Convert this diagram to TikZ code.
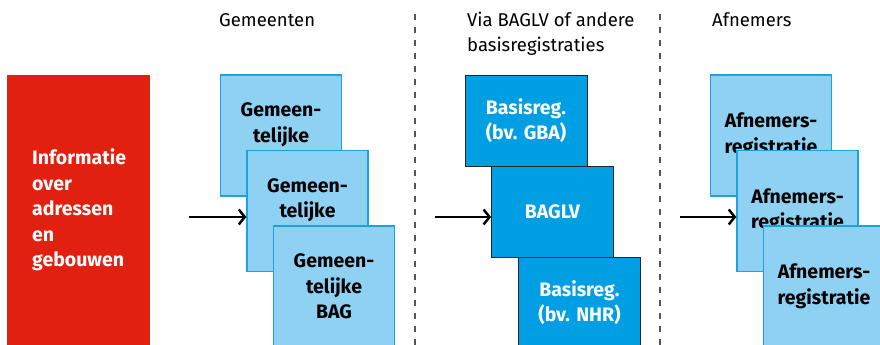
\documentclass[tikz,border=0pt]{standalone}
\usepackage{fontspec}
\setmainfont{Fira Sans}
\usetikzlibrary{arrows.meta}
\definecolor{rvred}{HTML}{E2200F}
\definecolor{rvlight}{HTML}{8FD1F3}
\definecolor{rvlightbd}{HTML}{1AA3E3}
\definecolor{rvblue}{HTML}{009FE3}
\definecolor{rvdashgray}{HTML}{555555}
\tikzset{
  boxtext/.style={font=\bfseries\fontsize{19.5}{25.5}\selectfont, align=center},
  lightbox/.style={boxtext, draw=rvlightbd, line width=1.4pt, fill=rvlight,
    minimum width=121pt, minimum height=121pt, inner sep=0pt, text=black},
  darkbox/.style={boxtext, draw=black!85, line width=0.8pt, fill=rvblue,
    minimum width=122pt, minimum height=91pt, inner sep=0pt, text=white},
  header/.style={font=\fontsize{18.5}{25}\selectfont, anchor=base west, inner sep=0pt, align=left},
  sep/.style={draw=rvdashgray, line width=1.3pt, dash pattern=on 6pt off 7pt},
  arr/.style={line width=2.6pt, -{Straight Barb[length=6pt,width=15pt,line width=2.4pt]}}
}
\begin{document}
\begin{tikzpicture}[x=1pt,y=-1pt]
\useasboundingbox (0,0) rectangle (880,345);
\clip (0,0) rectangle (880,345);

% red source box
\node[fill=rvred, minimum width=143pt, minimum height=280pt, inner sep=0pt] (info) at (78.5,215) {};
\node[font=\bfseries\fontsize{19.5}{25.5}\selectfont, text=white, align=left, anchor=west, inner sep=0pt] (infotext) at (32,210) {Informatie\\over\\adressen\\en\\gebouwen};

% headers
\node[header] (h1) at (219,27) {Gemeenten};
\node[header] (h2) at (467,27) {Via BAGLV of andere};
\node[header] (h2b) at (467,52) {basisregistraties};
\node[header] (h3) at (712,27) {Afnemers};

% separators
\coordinate (s1t) at (415,14);
\coordinate (s1b) at (415,345);
\coordinate (s2t) at (660,14);
\coordinate (s2b) at (660,345);
\draw[sep] (s1t) -- (s1b);
\draw[sep] (s2t) -- (s2b);

% Gemeenten
\node[lightbox] (g1) at (281,135.5) {Gemeen-\\telijke\\BAG};
\node[lightbox] (g2) at (307.5,211) {Gemeen-\\telijke\\BAG};
\node[lightbox] (g3) at (334,286.5) {Gemeen-\\telijke\\BAG};

% BAGLV
\node[darkbox] (b1) at (526,120.5) {Basisreg.\\(bv. GBA)};
\node[darkbox] (b2) at (552.5,211.5) {BAGLV};
\node[darkbox] (b3) at (579.5,302.5) {Basisreg.\\(bv. NHR)};

% Afnemers
\node[lightbox] (a1) at (771,135.5) {Afnemers-\\registratie};
\node[lightbox] (a2) at (797.5,211) {Afnemers-\\registratie};
\node[lightbox] (a3) at (824,286.5) {Afnemers-\\registratie};

% arrows
\coordinate (p1) at (189,217);
\coordinate (p2) at (435,217);
\coordinate (p3) at (680,217);
\draw[arr] (p1) -- (g2.west |- p1);
\draw[arr] (p2) -- (b2.west |- p2);
\draw[arr] (p3) -- (a2.west |- p3);
\end{tikzpicture}
\end{document}
